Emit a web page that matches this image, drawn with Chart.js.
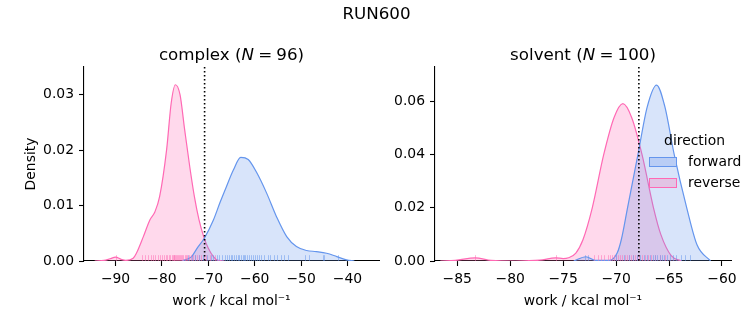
<!DOCTYPE html>
<html><head><meta charset="utf-8">
<script src="https://cdn.jsdelivr.net/npm/chart.js@4/dist/chart.umd.min.js"></script>
<style>
body{margin:0;width:753px;height:325px;position:relative;background:#fff;font-family:"DejaVu Sans";overflow:hidden}
canvas{position:absolute;top:0}
.t{position:absolute;white-space:nowrap;color:#000;transform:translate(-50%,-50%);font-size:16.7px;line-height:1}
.l{position:absolute;white-space:nowrap;color:#000;font-size:13.9px;line-height:1;transform:translateY(-50%)}
.p{position:absolute;width:26px;height:8px;border:1px solid}
</style></head><body>
<canvas id="c1" width="380" height="325" style="left:0;width:380px;height:325px"></canvas>
<canvas id="c2" width="373" height="325" style="left:380px;width:373px;height:325px"></canvas>
<div class="t" style="left:376.5px;top:13px">RUN600</div>
<div class="t" style="left:231.5px;top:54px">complex (<i>N</i>&#8197;=&#8197;96)</div>
<div class="t" style="left:583px;top:54px">solvent (<i>N</i>&#8197;=&#8197;100)</div>
<div class="l" style="left:694.5px;top:141px;transform:translate(-50%,-50%)">direction</div>
<div class="p" style="left:649px;top:157px;background:#b9cdf5;border-color:#6495ED"></div>
<div class="l" style="left:688px;top:162px">forward</div>
<div class="p" style="left:649px;top:178px;background:#e2c4e4;border-color:#FF69B4"></div>
<div class="l" style="left:688px;top:183px">reverse</div>
<script>
// ---- complex panel ----
const complexXTicks = [-90, -80, -70, -60, -50, -40];
const complexYTicks = [0, 0.01, 0.02, 0.03];
const complexFwdX = [-75.7, -73.6, -72.5, -70.8, -68.9, -67.5, -66.1, -64.6, -63.0, -61.4, -59.6, -57.4, -55.3, -53.1, -51.0, -48.8, -46.7, -44.5, -42.3, -40.2, -38.5];
const complexFwdY = [0, 0.0008, 0.0022, 0.0042, 0.0074, 0.0105, 0.0134, 0.0164, 0.0187, 0.0183, 0.016, 0.0122, 0.008, 0.0044, 0.0026, 0.0019, 0.0017, 0.0014, 0.0008, 0.0002, 0];
const complexRevX = [-94.5, -92.5, -91.2, -90.0, -88.8, -87.8, -86.2, -85.5, -84.0, -82.6, -81.5, -80.5, -79.0, -78.0, -77.1, -76.1, -75.1, -74.0, -73.0, -72.0, -71.0, -70.0, -68.9, -67.9, -66.5];
const complexRevY = [0, 0.0001, 0.0004, 0.0007, 0.0003, 0.0001, 0.0005, 0.0014, 0.0044, 0.0074, 0.0089, 0.0116, 0.020, 0.0285, 0.0318, 0.030, 0.0237, 0.017, 0.0116, 0.0074, 0.0044, 0.0023, 0.0008, 0.0001, 0];
const complexRugFwd = [-74.3, -73.5, -72.8, -72.0, -71.2, -70.3, -69.5, -68.9, -68.2, -67.6, -67.0, -66.5, -66.0, -65.6, -65.2, -64.8, -64.4, -64.0, -63.6, -63.3, -63.0, -62.6, -62.3, -62.0, -61.6, -61.2, -60.8, -60.4, -60.0, -59.6, -59.1, -58.6, -58.0, -57.2, -56.6, -55.8, -55.2, -54.4, -53.6, -52.8, -49.2, -48.3, -45.3, -45.0, -42.1];
const complexRugRev = [-90.0, -84.3, -83.6, -83.0, -82.4, -81.9, -81.4, -80.9, -80.4, -80.0, -79.6, -79.2, -78.8, -78.5, -78.2, -77.9, -77.7, -77.5, -77.3, -77.1, -76.9, -76.7, -76.5, -76.3, -76.1, -75.9, -75.7, -75.4, -75.1, -74.8, -74.5, -74.1, -73.7, -73.3, -72.9, -72.5, -72.1, -71.6, -71.0, -70.4, -69.6, -68.6];
const complexMarker = -70.8;

// ---- solvent panel ----
const solventXTicks = [-85, -80, -75, -70, -65, -60];
const solventYTicks = [0, 0.02, 0.04, 0.06];
const solventFwdX = [-74.0, -72.85, -71.96, -70.68, -69.90, -69.51, -68.92, -67.94, -67.06, -66.18, -65.39, -64.51, -63.33, -62.35, -61.08];
const solventFwdY = [0, 0.0016, 0.0002, 0.0002, 0.003, 0.008, 0.02, 0.04, 0.058, 0.0662, 0.058, 0.04, 0.02, 0.006, 0];
const solventRevX = [-86.6, -85.2, -83.3, -81.8, -79.5, -77.2, -75.7, -75.0, -74.5, -73.8, -73.13, -72.25, -71.17, -70.19, -69.36, -68.53, -67.55, -66.47, -65.78, -64.80, -63.82];
const solventRevY = [0, 0.0002, 0.0012, 0.0002, 0.0, 0.0003, 0.0012, 0.0009, 0.0012, 0.003, 0.008, 0.02, 0.04, 0.054, 0.0592, 0.054, 0.04, 0.02, 0.01, 0.002, 0];
const solventRugFwd = [-72.95, -72.7, -70.0, -69.3, -68.8, -68.4, -68.0, -67.7, -67.4, -67.1, -66.8, -66.5, -66.3, -66.1, -65.9, -65.7, -65.5, -65.2, -64.9, -64.6, -64.3, -63.9, -63.5, -63.0];
const solventRugRev = [-83.3, -75.7, -72.05, -71.7, -71.4, -71.1, -70.8, -70.6, -70.4, -70.2, -70.0, -69.8, -69.6, -69.4, -69.2, -69.0, -68.8, -68.6, -68.4, -68.2, -68.0, -67.8, -67.6, -67.3, -67.0, -66.7, -66.3, -65.9, -65.4];
const solventMarker = -67.85;

const BLUE = '#6495ED', PINK = '#FF69B4';
const BLUE_FILL = 'rgba(100,149,237,0.25)', PINK_FILL = 'rgba(255,105,180,0.25)';
const FONT = {family: 'DejaVu Sans', size: 13.9};
const TXT = '#000';

function pts(xs, ys) { return xs.map((x, i) => ({x: x, y: ys[i]})); }
function fmtX(v) { return v < 0 ? '\u2212' + Math.abs(v) : String(v); }

const overlay = {
  id: 'overlay',
  afterDatasetsDraw(chart, args, opts) {
    const ctx = chart.ctx, a = chart.chartArea, x = chart.scales.x;
    ctx.save();
    ctx.beginPath(); ctx.rect(a.left, a.top, a.right - a.left, a.bottom - a.top); ctx.clip();
    const h = (a.bottom - a.top) * 0.03;
    for (const r of opts.rugs) {
      ctx.strokeStyle = r.color; ctx.lineWidth = 1;
      for (const v of r.values) {
        const px = Math.round(x.getPixelForValue(v)) + 0.5;
        ctx.beginPath(); ctx.moveTo(px, a.bottom); ctx.lineTo(px, a.bottom - h); ctx.stroke();
      }
    }
    const vx = x.getPixelForValue(opts.marker);
    ctx.setLineDash([1.5, 2.5]); ctx.lineWidth = 1.6; ctx.strokeStyle = '#000';
    ctx.beginPath(); ctx.moveTo(vx, a.top); ctx.lineTo(vx, a.bottom); ctx.stroke();
    ctx.restore();
  }
};

function makeChart(id, o) {
  return new Chart(document.getElementById(id), {
    type: 'line',
    data: {datasets: [
      {data: pts(o.fx, o.fy), borderColor: BLUE, backgroundColor: BLUE_FILL, fill: 'origin', borderWidth: 1.2, pointRadius: 0, cubicInterpolationMode: 'monotone'},
      {data: pts(o.rx, o.ry), borderColor: PINK, backgroundColor: PINK_FILL, fill: 'origin', borderWidth: 1.2, pointRadius: 0, cubicInterpolationMode: 'monotone'}
    ]},
    options: {
      responsive: false, animation: false, devicePixelRatio: 1,
      layout: {padding: {left: 0, right: o.padRight, top: 67, bottom: 0}},
      plugins: {legend: {display: false}, tooltip: {enabled: false},
        overlay: {marker: o.marker, rugs: [
          {color: 'rgba(255,105,180,0.5)', values: o.rugR},
          {color: 'rgba(100,149,237,0.5)', values: o.rugF}
        ]}},
      scales: {
        x: {type: 'linear', min: o.xmin, max: o.xmax,
          afterBuildTicks: s => { s.ticks = o.xticks.map(v => ({value: v})); },
          afterFit: s => { s.height = 64; },
          grid: {drawOnChartArea: false, color: '#000', tickLength: 5, tickWidth: 1.1},
          border: {color: '#000', width: 1.1},
          ticks: {font: FONT, color: TXT, padding: 5.5, maxRotation: 0, callback: fmtX},
          title: {display: true, text: 'work / kcal mol\u207B\u00B9', font: FONT, color: TXT, padding: {top: 0, bottom: 15.5}}
        },
        y: {type: 'linear', min: 0, max: o.ymax,
          afterBuildTicks: s => { s.ticks = o.yticks.map(v => ({value: v})); },
          afterFit: s => { s.width = o.yw; },
          grid: {drawOnChartArea: false, color: '#000', tickLength: 5, tickWidth: 1.1},
          border: {color: '#000', width: 1.1},
          ticks: {font: FONT, color: TXT, padding: 5, callback: v => v.toFixed(2)},
          title: {display: o.ytitle, text: 'Density', font: FONT, color: TXT, padding: {top: 23, bottom: 0}}
        }
      }
    },
    plugins: [overlay]
  });
}

makeChart('c1', {fx: complexFwdX, fy: complexFwdY, rx: complexRevX, ry: complexRevY,
  rugF: complexRugFwd, rugR: complexRugRev, marker: complexMarker,
  xmin: -96.8, xmax: -33.2, ymax: 0.035, xticks: complexXTicks, yticks: complexYTicks,
  yw: 84, padRight: 1, ytitle: true});
makeChart('c2', {fx: solventFwdX, fy: solventFwdY, rx: solventRevX, ry: solventRevY,
  rugF: solventRugFwd, rugR: solventRugRev, marker: solventMarker,
  xmin: -87.1, xmax: -59.15, ymax: 0.073, xticks: solventXTicks, yticks: solventYTicks,
  yw: 55, padRight: 22, ytitle: false});
</script>
</body></html>
